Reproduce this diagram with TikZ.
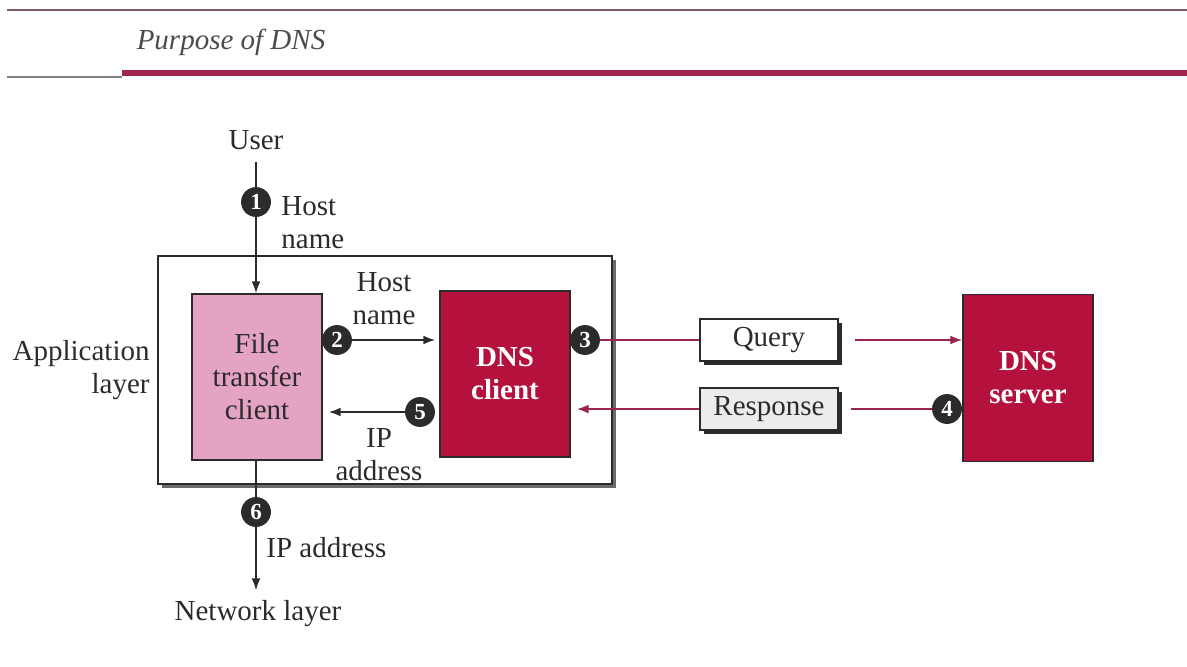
\documentclass[tikz,border=0pt]{standalone}
\usepackage{fontspec}
\setmainfont{Liberation Serif}
\usetikzlibrary{arrows.meta,shadows}
\definecolor{crim}{HTML}{B5113D}
\definecolor{pinkf}{HTML}{E4A3C2}
\definecolor{mline}{HTML}{9B2548}
\definecolor{ink}{HTML}{2B2B2B}
\definecolor{thickc}{HTML}{A0244F}
\definecolor{toplc}{HTML}{7A5A64}
\begin{document}
\begin{tikzpicture}[x=0.5pt,y=-0.5pt,
  every node/.style={font=\fontsize{14.5}{16.5}\selectfont, text=ink},
  lbl/.style={inner sep=0pt},
  box/.style={draw=ink, line width=0.7pt, minimum width=65pt, minimum height=83pt, inner sep=0pt, align=center},
  num/.style={circle, fill=ink, draw=ink, text=white, minimum size=14.5pt, inner sep=0pt, font=\bfseries\fontsize{11.5}{11.5}\selectfont},
  msg/.style={draw=ink, line width=0.7pt, minimum width=69pt, minimum height=21pt, inner sep=0pt,
     drop shadow={shadow xshift=2.2pt, shadow yshift=-2.2pt, fill=ink, opacity=1}},
  conn/.style={draw=ink, line width=1pt},
  arr/.style={conn, -{Latex[length=6pt,width=4.5pt]}},
  mconn/.style={draw=mline, line width=1pt},
  marr/.style={mconn, -{Latex[length=6pt,width=4.5pt]}}
]
\useasboundingbox (0,0) rectangle (1187,666);
% header rules
\draw[toplc, line width=1pt] (7,10) -- (1187,10);
\node[lbl, font=\itshape\fontsize{14.5}{16.5}\selectfont, text=ink!85] (title) at (231,42) {Purpose of DNS};
\draw[gray, line width=0.6pt] (7,77) -- (122,77);
\draw[thickc, line width=3pt] (122,73) -- (1187,73);

% application layer box
\node[draw=ink, line width=0.8pt, fill=white, minimum width=227pt, minimum height=114pt,
  drop shadow={shadow xshift=2pt, shadow yshift=-2pt, fill=ink!70, opacity=1}] (app) at (385,370) {};
\node[lbl, align=right, anchor=east] (applbl) at (150,370) {Application\\layer};

% boxes
\node[box, fill=pinkf] (ftc) at (257,377) {File\\transfer\\client};
\node[box, fill=crim, text=white, font=\bfseries\fontsize{14.5}{16.5}\selectfont] (dnsc) at (505,374) {DNS\\client};
\node[box, fill=crim, text=white, font=\bfseries\fontsize{14.5}{16.5}\selectfont, minimum height=83.5pt] (dnss) at (1028,378) {DNS\\server};

% messages
\node[msg, fill=white] (query) at (769,340) {Query};
\node[msg, fill=gray!15] (resp) at (769,409) {Response};

% user side
\node[lbl] (user) at (256,140) {User};
\node[num] (c1) at (256,202) {1};
\node[lbl, align=left, anchor=west] (hn1) at (281,223) {Host\\name};
\draw[conn, shorten <=6pt] (c1 |- user.south) -- (c1);
\draw[arr] (c1) -- (c1 |- ftc.north);

% step 2
\node[num] (c2) at (337,340) {2};
\node[lbl, align=center] (hn2) at (384,299) {Host\\name};
\draw[arr, shorten >=2pt] (c2) -- (dnsc.west |- c2);

% step 5
\node[num] (c5) at (420,412) {5};
\node[lbl, align=center] (ip5) at (379,455) {IP\\address};
\draw[arr, shorten >=3pt] (c5) -- (ftc.east |- c5);

% step 3
\node[num] (c3) at (585,340) {3};
\draw[mconn] (c3) -- (query.west);
\draw[marr] ([xshift=8pt]query.east) -- (dnss.west |- query.east);

% step 4
\node[num] (c4) at (947,409) {4};
\draw[mconn] (c4) -- ([xshift=6pt]resp.east);
\draw[marr, shorten >=3pt] (resp.west) -- (dnsc.east |- resp.west);

% step 6
\node[num] (c6) at (256,512) {6};
\node[lbl, anchor=west] (ip6) at (266,548) {IP address};
\node[lbl] (nl) at (258,614) {Network layer};
\draw[conn] (c6 |- ftc.south) -- (c6);
\draw[arr, shorten >=5pt] (c6) -- (c6 |- nl.north);
\end{tikzpicture}
\end{document}
